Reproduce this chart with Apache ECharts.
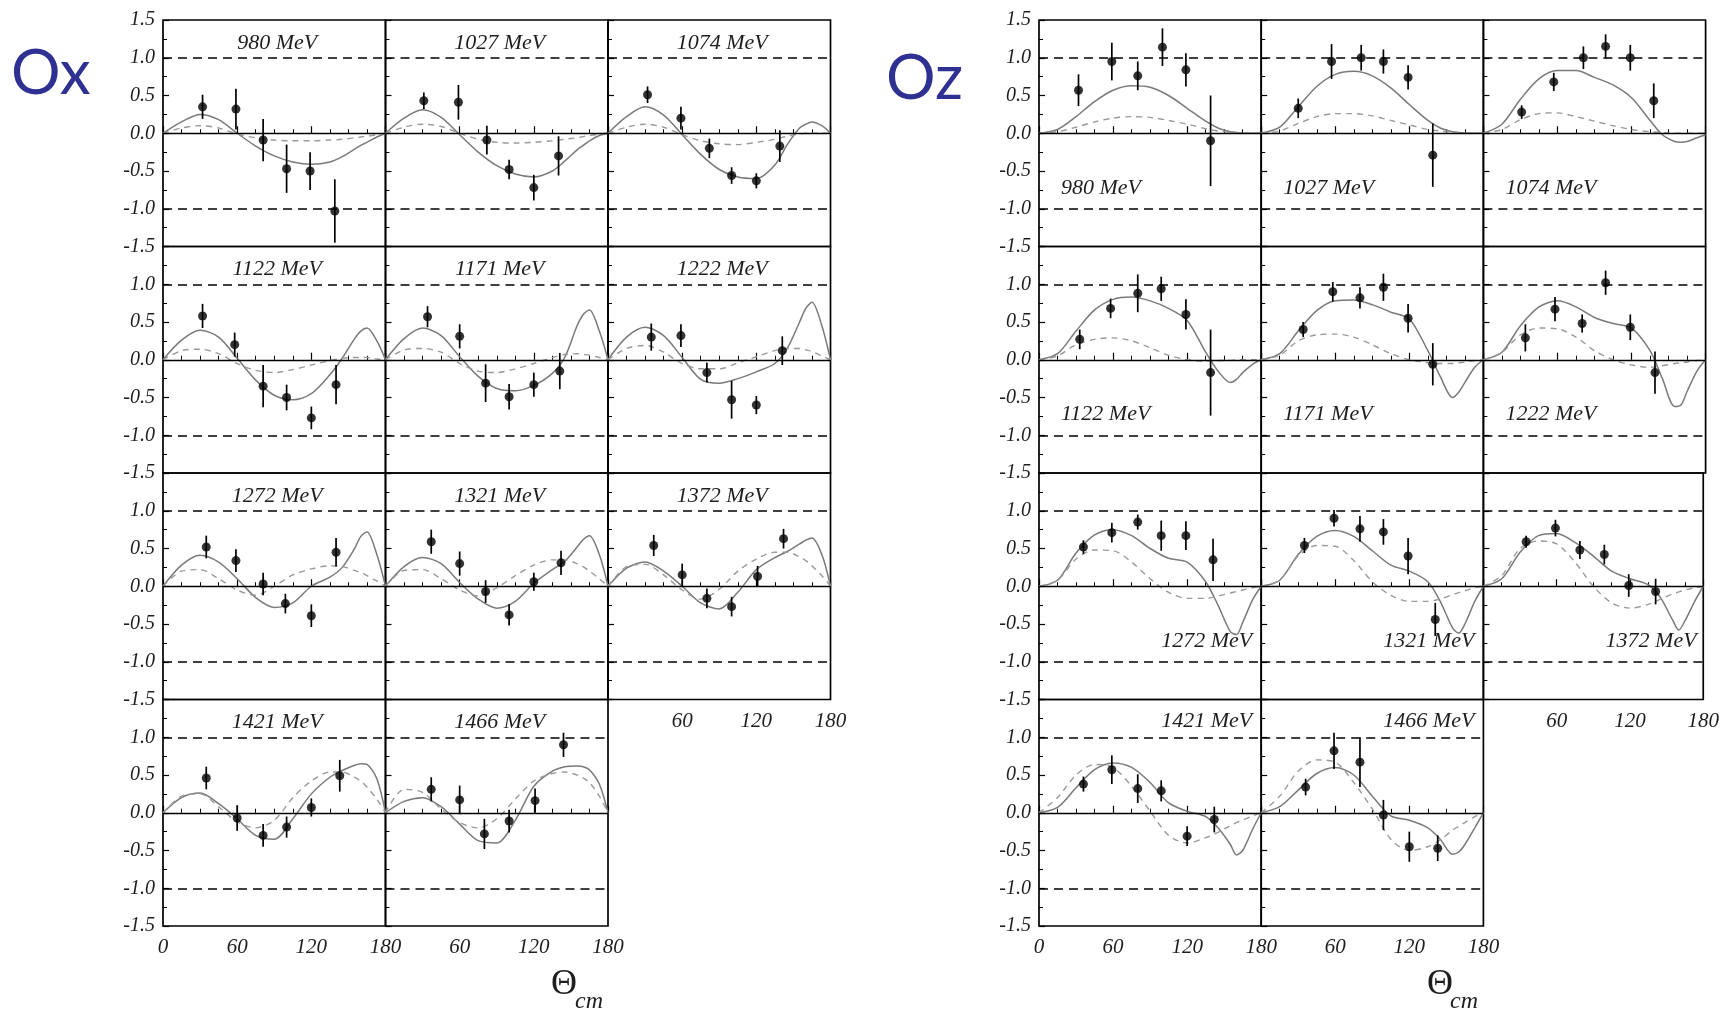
<!DOCTYPE html>
<html>
<head>
<meta charset="utf-8">
<title>Ox / Oz vs Theta_cm</title>
<script src="https://cdn.jsdelivr.net/npm/echarts@6/dist/echarts.min.js"></script>
<style>
  html, body { margin: 0; padding: 0; background: #fff; }
  #chart { width: 1722px; height: 1013px; }
</style>
</head>
<body>
<div id="chart"></div>
<script>
// beam energies, one sub-panel each
const energies = ['980', '1027', '1074', '1122', '1171', '1222', '1272', '1321', '1372', '1421', '1466'];

const curveTheta = [0, 15, 30, 45, 60, 75, 90, 105, 120, 135, 145, 155, 160, 165, 173, 180];

// ---- Ox ----
const oxSolid = [
  [0, 0.15, 0.25, 0.18, 0.0, -0.17, -0.30, -0.38, -0.41, -0.38, -0.31, -0.21, -0.16, -0.12, -0.05, 0],
  [0, 0.20, 0.31, 0.21, -0.02, -0.25, -0.43, -0.54, -0.58, -0.50, -0.37, -0.22, -0.16, -0.10, -0.03, 0],
  [0, 0.22, 0.35, 0.24, -0.02, -0.28, -0.48, -0.58, -0.60, -0.42, -0.15, 0.07, 0.12, 0.15, 0.10, 0],
  [0, 0.26, 0.39, 0.30, 0.02, -0.27, -0.47, -0.53, -0.45, -0.20, 0.02, 0.28, 0.38, 0.42, 0.25, 0],
  [0, 0.28, 0.42, 0.32, 0.04, -0.22, -0.38, -0.41, -0.34, -0.18, 0.03, 0.45, 0.60, 0.66, 0.38, 0],
  [0, 0.30, 0.43, 0.32, 0.03, -0.26, -0.31, -0.25, -0.16, -0.05, 0.15, 0.50, 0.68, 0.76, 0.45, 0],
  [0, 0.28, 0.41, 0.32, 0.10, -0.15, -0.28, -0.22, 0.0, 0.12, 0.25, 0.50, 0.66, 0.72, 0.42, 0],
  [0, 0.26, 0.38, 0.30, 0.05, -0.17, -0.29, -0.20, 0.04, 0.22, 0.33, 0.52, 0.62, 0.67, 0.42, 0],
  [0, 0.24, 0.32, 0.20, 0.0, -0.22, -0.30, -0.08, 0.22, 0.38, 0.46, 0.56, 0.61, 0.64, 0.42, 0],
  [0, 0.20, 0.26, 0.12, -0.08, -0.30, -0.35, -0.08, 0.25, 0.47, 0.56, 0.63, 0.65, 0.64, 0.45, 0],
  [0, 0.15, 0.20, 0.08, -0.15, -0.37, -0.40, -0.10, 0.35, 0.55, 0.61, 0.62, 0.61, 0.57, 0.38, 0]
];
const oxDashed = [
  [0, 0.07, 0.10, 0.07, -0.01, -0.06, -0.09, -0.10, -0.10, -0.09, -0.08, -0.06, -0.05, -0.04, -0.02, 0],
  [0, 0.08, 0.12, 0.09, 0.0, -0.08, -0.12, -0.13, -0.12, -0.10, -0.08, -0.06, -0.045, -0.03, -0.01, 0],
  [0, 0.08, 0.12, 0.08, -0.02, -0.10, -0.14, -0.15, -0.12, -0.08, -0.04, -0.01, 0, 0, 0, 0],
  [0, 0.12, 0.14, 0.08, -0.05, -0.14, -0.17, -0.13, -0.07, -0.01, 0.02, 0.03, 0.03, 0.03, 0.01, 0],
  [0, 0.13, 0.15, 0.10, -0.05, -0.15, -0.17, -0.12, -0.05, 0.03, 0.07, 0.08, 0.07, 0.06, 0.03, 0],
  [0, 0.15, 0.19, 0.10, -0.05, -0.12, -0.12, -0.04, 0.04, 0.12, 0.15, 0.15, 0.13, 0.11, 0.05, 0],
  [0, 0.20, 0.22, 0.10, -0.05, -0.12, 0.0, 0.15, 0.23, 0.27, 0.26, 0.21, 0.18, 0.14, 0.07, 0],
  [0, 0.21, 0.22, 0.10, -0.05, -0.13, -0.02, 0.14, 0.28, 0.35, 0.35, 0.30, 0.26, 0.20, 0.10, 0],
  [0, 0.26, 0.29, 0.15, -0.05, -0.17, -0.04, 0.20, 0.36, 0.45, 0.45, 0.39, 0.34, 0.27, 0.14, 0],
  [0, 0.22, 0.25, 0.08, -0.12, -0.20, -0.10, 0.20, 0.42, 0.54, 0.54, 0.47, 0.42, 0.34, 0.18, 0],
  [0, 0.31, 0.27, 0.05, -0.13, -0.20, -0.08, 0.18, 0.42, 0.52, 0.54, 0.50, 0.46, 0.40, 0.22, 0]
];
const oxTheta = [
  [32, 59, 81, 100, 119, 139], [31, 59, 82, 100, 120, 140], [32, 59, 82, 100, 120, 139],
  [32, 58, 81, 100, 120, 140], [34, 60, 81, 100, 120, 141], [35, 59, 80, 100, 120, 141],
  [35, 59, 81, 99, 120, 140], [37, 60, 81, 100, 120, 142], [37, 60, 80, 100, 121, 142],
  [35, 60, 81, 100, 120, 143], [37, 60, 80, 100, 121, 144]
];
const oxValue = [
  [0.35, 0.32, -0.09, -0.47, -0.50, -1.03],
  [0.43, 0.41, -0.09, -0.48, -0.72, -0.30],
  [0.51, 0.20, -0.20, -0.56, -0.63, -0.17],
  [0.58, 0.20, -0.35, -0.50, -0.77, -0.33],
  [0.57, 0.31, -0.31, -0.49, -0.33, -0.15],
  [0.30, 0.32, -0.17, -0.53, -0.60, 0.12],
  [0.52, 0.34, 0.03, -0.23, -0.39, 0.45],
  [0.59, 0.30, -0.07, -0.38, 0.06, 0.31],
  [0.54, 0.15, -0.16, -0.27, 0.13, 0.63],
  [0.46, -0.07, -0.30, -0.19, 0.07, 0.49],
  [0.31, 0.17, -0.28, -0.11, 0.16, 0.90]
];
const oxError = [
  [0.16, 0.27, 0.28, 0.32, 0.25, 0.42],
  [0.11, 0.23, 0.19, 0.13, 0.17, 0.26],
  [0.11, 0.15, 0.13, 0.11, 0.10, 0.21],
  [0.16, 0.16, 0.28, 0.17, 0.15, 0.26],
  [0.14, 0.16, 0.25, 0.17, 0.16, 0.24],
  [0.18, 0.15, 0.13, 0.25, 0.12, 0.19],
  [0.15, 0.15, 0.15, 0.13, 0.15, 0.19],
  [0.16, 0.16, 0.15, 0.14, 0.12, 0.16],
  [0.14, 0.15, 0.13, 0.13, 0.14, 0.13],
  [0.15, 0.17, 0.15, 0.14, 0.12, 0.21],
  [0.16, 0.19, 0.20, 0.15, 0.16, 0.16]
];

// ---- Oz ----
const ozSolid = [
  [0, 0.05, 0.22, 0.42, 0.57, 0.63, 0.61, 0.50, 0.33, 0.16, 0.07, 0.02, 0.01, 0.0, 0, 0],
  [0, 0.08, 0.35, 0.62, 0.78, 0.82, 0.76, 0.60, 0.38, 0.17, 0.07, 0.02, 0.01, 0.0, 0, 0],
  [0, 0.12, 0.45, 0.72, 0.83, 0.83, 0.74, 0.64, 0.47, 0.17, -0.02, -0.11, -0.12, -0.11, -0.06, -0.02],
  [0, 0.08, 0.38, 0.66, 0.80, 0.83, 0.78, 0.68, 0.52, 0.10, -0.15, -0.30, -0.26, -0.17, -0.06, 0],
  [0, 0.08, 0.38, 0.65, 0.78, 0.79, 0.73, 0.63, 0.54, 0.12, -0.22, -0.50, -0.43, -0.30, -0.10, 0],
  [0, 0.10, 0.45, 0.70, 0.78, 0.70, 0.56, 0.48, 0.42, 0.12, -0.25, -0.62, -0.60, -0.42, -0.15, 0],
  [0, 0.08, 0.44, 0.68, 0.75, 0.67, 0.50, 0.37, 0.32, 0.06, -0.25, -0.60, -0.64, -0.48, -0.18, 0],
  [0, 0.08, 0.42, 0.66, 0.74, 0.66, 0.47, 0.28, 0.20, 0.06, -0.20, -0.55, -0.62, -0.50, -0.20, 0],
  [0, 0.10, 0.45, 0.67, 0.70, 0.58, 0.40, 0.20, 0.10, 0.02, -0.15, -0.45, -0.58, -0.46, -0.20, 0],
  [0, 0.07, 0.33, 0.57, 0.66, 0.60, 0.40, 0.13, 0.02, -0.05, -0.20, -0.42, -0.56, -0.50, -0.22, 0],
  [0, 0.08, 0.30, 0.52, 0.60, 0.50, 0.22, -0.04, -0.10, -0.20, -0.35, -0.55, -0.52, -0.42, -0.20, 0]
];
const ozDashed = [
  [0, 0.02, 0.08, 0.15, 0.20, 0.22, 0.21, 0.17, 0.12, 0.06, 0.03, 0.01, 0.005, 0, 0, 0],
  [0, 0.03, 0.13, 0.22, 0.26, 0.26, 0.23, 0.17, 0.11, 0.05, 0.03, 0.01, 0.005, 0, 0, 0],
  [0, 0.05, 0.18, 0.26, 0.27, 0.22, 0.16, 0.10, 0.05, 0.02, 0.01, 0, 0, 0, 0, 0],
  [0, 0.05, 0.20, 0.27, 0.29, 0.25, 0.16, 0.06, 0.0, -0.02, -0.01, -0.01, 0, 0, 0, 0],
  [0, 0.06, 0.25, 0.33, 0.34, 0.30, 0.20, 0.08, 0.0, -0.04, -0.05, -0.05, -0.04, -0.03, -0.01, 0],
  [0, 0.10, 0.33, 0.42, 0.41, 0.30, 0.12, 0.0, -0.07, -0.10, -0.08, -0.05, -0.04, -0.03, -0.01, 0],
  [0, 0.08, 0.36, 0.48, 0.47, 0.32, 0.10, -0.08, -0.16, -0.16, -0.13, -0.09, -0.07, -0.05, -0.02, 0],
  [0, 0.08, 0.40, 0.54, 0.53, 0.34, 0.06, -0.12, -0.20, -0.20, -0.17, -0.11, -0.085, -0.06, -0.02, 0],
  [0, 0.14, 0.50, 0.60, 0.56, 0.32, 0.0, -0.22, -0.29, -0.24, -0.17, -0.10, -0.075, -0.05, -0.02, 0],
  [0, 0.20, 0.50, 0.64, 0.60, 0.35, 0.02, -0.30, -0.40, -0.33, -0.26, -0.17, -0.13, -0.10, -0.04, 0],
  [0, 0.22, 0.55, 0.70, 0.67, 0.40, 0.05, -0.35, -0.50, -0.45, -0.36, -0.23, -0.18, -0.13, -0.05, 0]
];
const ozTheta = [
  [32, 59, 80, 100, 119, 139], [30, 57, 81, 99, 119, 139], [31, 57, 81, 99, 119, 138],
  [33, 58, 80, 99, 119, 139], [34, 58, 80, 99, 119, 139], [34, 58, 80, 99, 119, 139],
  [36, 59, 80, 99, 119, 141], [35, 59, 80, 99, 119, 141], [35, 59, 79, 99, 119, 141],
  [36, 59, 80, 99, 120, 142], [36, 59, 80, 99, 120, 143]
];
const ozValue = [
  [0.57, 0.95, 0.76, 1.14, 0.84, -0.10],
  [0.33, 0.95, 1.00, 0.95, 0.74, -0.29],
  [0.28, 0.68, 1.00, 1.15, 1.00, 0.43],
  [0.27, 0.68, 0.88, 0.94, 0.60, -0.17],
  [0.40, 0.90, 0.82, 0.96, 0.55, -0.06],
  [0.29, 0.67, 0.48, 1.02, 0.43, -0.17],
  [0.52, 0.71, 0.85, 0.67, 0.67, 0.35],
  [0.54, 0.90, 0.76, 0.72, 0.40, -0.44],
  [0.59, 0.77, 0.48, 0.42, 0.01, -0.07],
  [0.38, 0.57, 0.32, 0.29, -0.31, -0.09],
  [0.34, 0.82, 0.67, -0.03, -0.45, -0.47]
];
const ozError = [
  [0.21, 0.25, 0.19, 0.25, 0.22, 0.60],
  [0.13, 0.23, 0.17, 0.16, 0.16, 0.42],
  [0.09, 0.12, 0.15, 0.16, 0.17, 0.23],
  [0.13, 0.13, 0.25, 0.16, 0.20, 0.57],
  [0.10, 0.13, 0.14, 0.18, 0.19, 0.28],
  [0.18, 0.16, 0.12, 0.16, 0.17, 0.28],
  [0.09, 0.13, 0.10, 0.20, 0.19, 0.28],
  [0.10, 0.11, 0.17, 0.17, 0.24, 0.22],
  [0.08, 0.11, 0.12, 0.13, 0.15, 0.17],
  [0.10, 0.19, 0.19, 0.14, 0.13, 0.17],
  [0.11, 0.24, 0.33, 0.20, 0.20, 0.17]
];

const serif = '"Liberation Serif", "DejaVu Serif", serif';
const rowTop = 20, rowH = 226.5;

// where the energy label sits inside each sub-panel
function oxLabelPlace(k) { return 'topCenter'; }
function ozLabelPlace(k) {
  if (k < 6) return 'bottomLeft';
  if (k < 9) return 'bottomRight';
  return 'topRight';
}

const panels = [
  { left: 163, width: 222.5, solid: oxSolid, dashed: oxDashed, theta: oxTheta, value: oxValue, error: oxError, place: oxLabelPlace },
  { left: 1039, width: 222.2, solid: ozSolid, dashed: ozDashed, theta: ozTheta, value: ozValue, error: ozError, place: ozLabelPlace }
];

const grid = [], xAxis = [], yAxis = [], series = [], graphic = [];

panels.forEach((p) => {
  energies.forEach((en, k) => {
    const r = Math.floor(k / 3), c = k % 3;
    const gi = grid.length;
    const gx = p.left + c * p.width, gy = rowTop + r * rowH;
    const bottomRow = (r === 3) || (r === 2 && c === 2);

    grid.push({
      left: gx, top: gy, width: p.width, height: rowH,
      show: true, borderColor: '#000', borderWidth: 1.7, backgroundColor: 'transparent'
    });
    xAxis.push({
      gridIndex: gi, type: 'value', min: 0, max: 180, interval: 60,
      axisLine: { show: false },
      axisTick: { show: true, inside: true, length: 7, lineStyle: { color: '#000', width: 1.2 } },
      minorTick: { show: true, splitNumber: 4, length: 4, lineStyle: { color: '#000', width: 1 } },
      splitLine: { show: false },
      axisLabel: {
        show: bottomRow, showMinLabel: c === 0, showMaxLabel: true,
        fontFamily: serif, fontStyle: 'italic', fontSize: 21, color: '#1e1e1e', margin: 11
      }
    });
    yAxis.push({
      gridIndex: gi, type: 'value', min: -1.5, max: 1.5, interval: 0.5,
      axisLine: { show: false },
      axisTick: { show: true, inside: true, length: 6, lineStyle: { color: '#000', width: 1.2 } },
      minorTick: { show: true, splitNumber: 2, length: 4, lineStyle: { color: '#000', width: 1 } },
      splitLine: { show: false },
      axisLabel: {
        show: c === 0, showMaxLabel: r === 0, showMinLabel: true,
        fontFamily: serif, fontStyle: 'italic', fontSize: 20, color: '#1e1e1e', margin: 8,
        formatter: (v) => (Math.abs(v) < 1e-9 ? '0.0' : v.toFixed(1))
      }
    });

    // solid model curve, with the reference lines at 0 and +-1
    series.push({
      type: 'line', xAxisIndex: gi, yAxisIndex: gi, silent: true,
      data: curveTheta.map((t, i) => [t, p.solid[k][i]]),
      smooth: 0.3, showSymbol: false, z: 3,
      lineStyle: { color: '#7a7a7a', width: 1.5 },
      markLine: {
        silent: true, symbol: ['none', 'none'], label: { show: false }, animation: false,
        lineStyle: { color: '#000', width: 1.4 },
        data: [
          { yAxis: 0, lineStyle: { type: 'solid', color: '#000', width: 1.4 } },
          { yAxis: 1, lineStyle: { type: [9, 6], color: '#000', width: 1.6 } },
          { yAxis: -1, lineStyle: { type: [9, 6], color: '#000', width: 1.6 } }
        ]
      }
    });
    // dashed model curve
    series.push({
      type: 'line', xAxisIndex: gi, yAxisIndex: gi, silent: true,
      data: curveTheta.map((t, i) => [t, p.dashed[k][i]]),
      smooth: 0.3, showSymbol: false, z: 3,
      lineStyle: { color: '#9a9a9a', width: 1.4, type: [6, 5] }
    });
    // error bars
    series.push({
      type: 'custom', xAxisIndex: gi, yAxisIndex: gi, silent: true, z: 4,
      data: p.theta[k].map((t, i) => [t, p.value[k][i] - p.error[k][i], p.value[k][i] + p.error[k][i]]),
      encode: { x: 0, y: [1, 2] },
      renderItem: (params, api) => {
        const lo = api.coord([api.value(0), api.value(1)]);
        const hi = api.coord([api.value(0), api.value(2)]);
        return {
          type: 'line',
          shape: { x1: lo[0], y1: lo[1], x2: hi[0], y2: hi[1] },
          style: { stroke: '#000', lineWidth: 1.7 }
        };
      }
    });
    // data points
    series.push({
      type: 'scatter', xAxisIndex: gi, yAxisIndex: gi, silent: true, z: 5,
      data: p.theta[k].map((t, i) => [t, p.value[k][i]]),
      symbol: 'circle', symbolSize: 9, itemStyle: { color: '#000' }
    });

    // energy label
    const place = p.place(k);
    let lx, ly, align;
    if (place === 'topCenter') { lx = gx + p.width / 2 + 3; ly = gy + 23; align = 'center'; }
    else if (place === 'topRight') { lx = gx + p.width - 9; ly = gy + 22; align = 'right'; }
    else if (place === 'bottomRight') { lx = gx + p.width - 9; ly = gy + 168; align = 'right'; }
    else { lx = gx + 22; ly = gy + 168; align = 'left'; }
    graphic.push({
      type: 'text', x: lx, y: ly, silent: true, z: 10,
      style: {
        text: en + ' MeV', fontFamily: serif, fontStyle: 'italic', fontSize: 22,
        fill: '#1e1e1e', align: align, verticalAlign: 'middle'
      }
    });
  });
});

// panel titles and axis names
const titleFont = 'Lato, "Open Sans", sans-serif';
graphic.push(
  { type: 'text', x: 11, y: 74, silent: true,
    style: { text: 'Ox', fontFamily: titleFont, fontSize: 62, fill: '#2e3192', align: 'left', verticalAlign: 'middle' } },
  { type: 'text', x: 886, y: 79, silent: true,
    style: { text: 'Oz', fontFamily: titleFont, fontSize: 62, fill: '#2e3192', align: 'left', verticalAlign: 'middle' } },
  { type: 'text', x: 564, y: 985, silent: true,
    style: { text: 'Θ', fontFamily: serif, fontSize: 36, fill: '#1e1e1e', align: 'center', verticalAlign: 'middle' } },
  { type: 'text', x: 589, y: 1002, silent: true,
    style: { text: 'cm', fontFamily: serif, fontStyle: 'italic', fontSize: 24, fill: '#1e1e1e', align: 'center', verticalAlign: 'middle' } },
  { type: 'text', x: 1440, y: 985, silent: true,
    style: { text: 'Θ', fontFamily: serif, fontSize: 36, fill: '#1e1e1e', align: 'center', verticalAlign: 'middle' } },
  { type: 'text', x: 1464, y: 1002, silent: true,
    style: { text: 'cm', fontFamily: serif, fontStyle: 'italic', fontSize: 24, fill: '#1e1e1e', align: 'center', verticalAlign: 'middle' } }
);

const chart = echarts.init(document.getElementById('chart'), null, { renderer: 'canvas' });
chart.setOption({
  animation: false,
  backgroundColor: '#fff',
  grid: grid,
  xAxis: xAxis,
  yAxis: yAxis,
  series: series,
  graphic: graphic
});
</script>
</body>
</html>
